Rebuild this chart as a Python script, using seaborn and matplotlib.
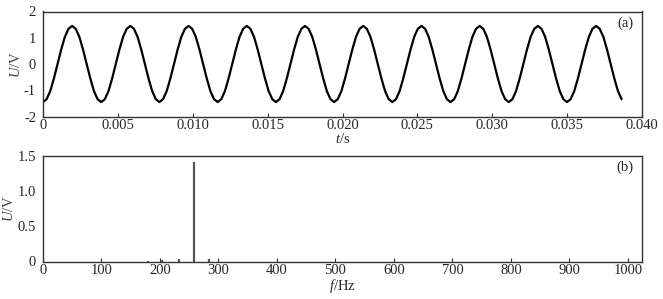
import numpy as np
import pandas as pd
import matplotlib
matplotlib.use("Agg")
import matplotlib.pyplot as plt
import seaborn as sns

# ---- data ----
# time-domain signal samples (sample step ~0.000243 s)
t_step = 0.000243
u_values = [
    -1.45, -1.34, -1.03, -0.55, 0.00, 0.55, 1.03, 1.34, 1.45, 1.34, 1.03, 0.55, 0.00, -0.55, -1.03, -1.34,
    -1.45, -1.34, -1.03, -0.55, 0.00, 0.55, 1.03, 1.34, 1.45, 1.34, 1.03, 0.55, 0.00, -0.55, -1.03, -1.34,
    -1.45, -1.34, -1.03, -0.55, 0.00, 0.55, 1.03, 1.34, 1.45, 1.34, 1.03, 0.55, 0.00, -0.55, -1.03, -1.34,
    -1.45, -1.34, -1.03, -0.55, 0.00, 0.55, 1.03, 1.34, 1.45, 1.34, 1.03, 0.55, 0.00, -0.55, -1.03, -1.34,
    -1.45, -1.34, -1.03, -0.55, 0.00, 0.55, 1.03, 1.34, 1.45, 1.34, 1.03, 0.55, 0.00, -0.55, -1.03, -1.34,
    -1.45, -1.34, -1.03, -0.55, 0.00, 0.55, 1.03, 1.34, 1.45, 1.34, 1.03, 0.55, 0.00, -0.55, -1.03, -1.34,
    -1.45, -1.34, -1.03, -0.55, 0.00, 0.55, 1.03, 1.34, 1.45, 1.34, 1.03, 0.55, 0.00, -0.55, -1.03, -1.34,
    -1.45, -1.34, -1.03, -0.55, 0.00, 0.55, 1.03, 1.34, 1.45, 1.34, 1.03, 0.55, 0.00, -0.55, -1.03, -1.34,
    -1.45, -1.34, -1.03, -0.55, 0.00, 0.55, 1.03, 1.34, 1.45, 1.34, 1.03, 0.55, 0.00, -0.55, -1.03, -1.34,
    -1.45, -1.34, -1.03, -0.55, 0.00, 0.55, 1.03, 1.34, 1.45, 1.34, 1.03, 0.55, 0.00, -0.55, -1.03, -1.34,
]
# spectrum lines
spec_freq = [179, 203, 233, 258, 284]
spec_amp = [0.012, 0.02, 0.03, 1.42, 0.03]

top_xticks = [0, 0.005, 0.010, 0.015, 0.020, 0.025, 0.030, 0.035, 0.040]
top_xticklabels = ["0", "0.005", "0.010", "0.015", "0.020", "0.025", "0.030", "0.035", "0.040"]
top_yticks = [-2, -1, 0, 1, 2]
top_yticklabels = ["-2", "-1", "0", "1", "2"]
bot_xticks = [0, 100, 200, 300, 400, 500, 600, 700, 800, 900, 1000]
bot_yticks = [0, 0.5, 1.0, 1.5]
bot_yticklabels = ["0", "0.5", "1.0", "1.5"]

# ---- style ----
sns.set_style("white")
plt.rcParams["font.family"] = ["Liberation Serif", "DejaVu Serif"]
plt.rcParams["mathtext.fontset"] = "custom"
plt.rcParams["mathtext.rm"] = "Liberation Serif"
plt.rcParams["mathtext.it"] = "Liberation Serif:italic"
plt.rcParams["axes.unicode_minus"] = False

FS = 10.5

fig = plt.figure(figsize=(6.63, 2.99), dpi=100)
ax1 = fig.add_axes([43 / 663, 1 - 116.5 / 299, (642 - 43) / 663, 105 / 299])
ax2 = fig.add_axes([43 / 663, 1 - 261.5 / 299, (642 - 43) / 663, 105.5 / 299])

df_sig = pd.DataFrame({"t": np.arange(len(u_values)) * t_step, "u": u_values})
sns.lineplot(data=df_sig, x="t", y="u", ax=ax1, color="black", linewidth=1.6)
ax1.set_xlim(0, 0.040)
ax1.set_ylim(-2, 2)
ax1.set_xticks(top_xticks)
ax1.set_xticklabels(top_xticklabels)
ax1.set_yticks(top_yticks)
ax1.set_yticklabels(top_yticklabels)
ax1.set_xlabel("$t$/s", fontsize=FS, labelpad=0)
ax1.set_ylabel("$U$/V", fontsize=FS, labelpad=1, color="#444444")
ax1.text(0.985, 0.89, "(a)", transform=ax1.transAxes, ha="right", va="center", fontsize=FS)

df_spec = pd.DataFrame({"f": spec_freq, "a": spec_amp})
ax2.vlines(df_spec["f"], 0, df_spec["a"], color="#555555", linewidth=1.6)
ax2.set_xlim(0, 1024)
ax2.set_ylim(0, 1.5)
ax2.set_xticks(bot_xticks)
ax2.set_yticks(bot_yticks)
ax2.set_yticklabels(bot_yticklabels)
ax2.set_xlabel("$f$/Hz", fontsize=FS, labelpad=0)
ax2.set_ylabel("$U$/V", fontsize=FS, labelpad=1, color="#444444")
ax2.text(0.985, 0.89, "(b)", transform=ax2.transAxes, ha="right", va="center", fontsize=FS)

for ax in (ax1, ax2):
    for s in ax.spines.values():
        s.set_color("#333333")
        s.set_linewidth(1.0)
        s.set_visible(True)
    ax.tick_params(axis="x", direction="in", length=3, width=0.8, color="#333333",
                   labelsize=FS, pad=2, bottom=True)
    ax.tick_params(axis="y", direction="in", length=0, labelsize=FS, pad=5, left=True)
    ax.grid(False)

fig.savefig("out.png", dpi=100, facecolor="white")
